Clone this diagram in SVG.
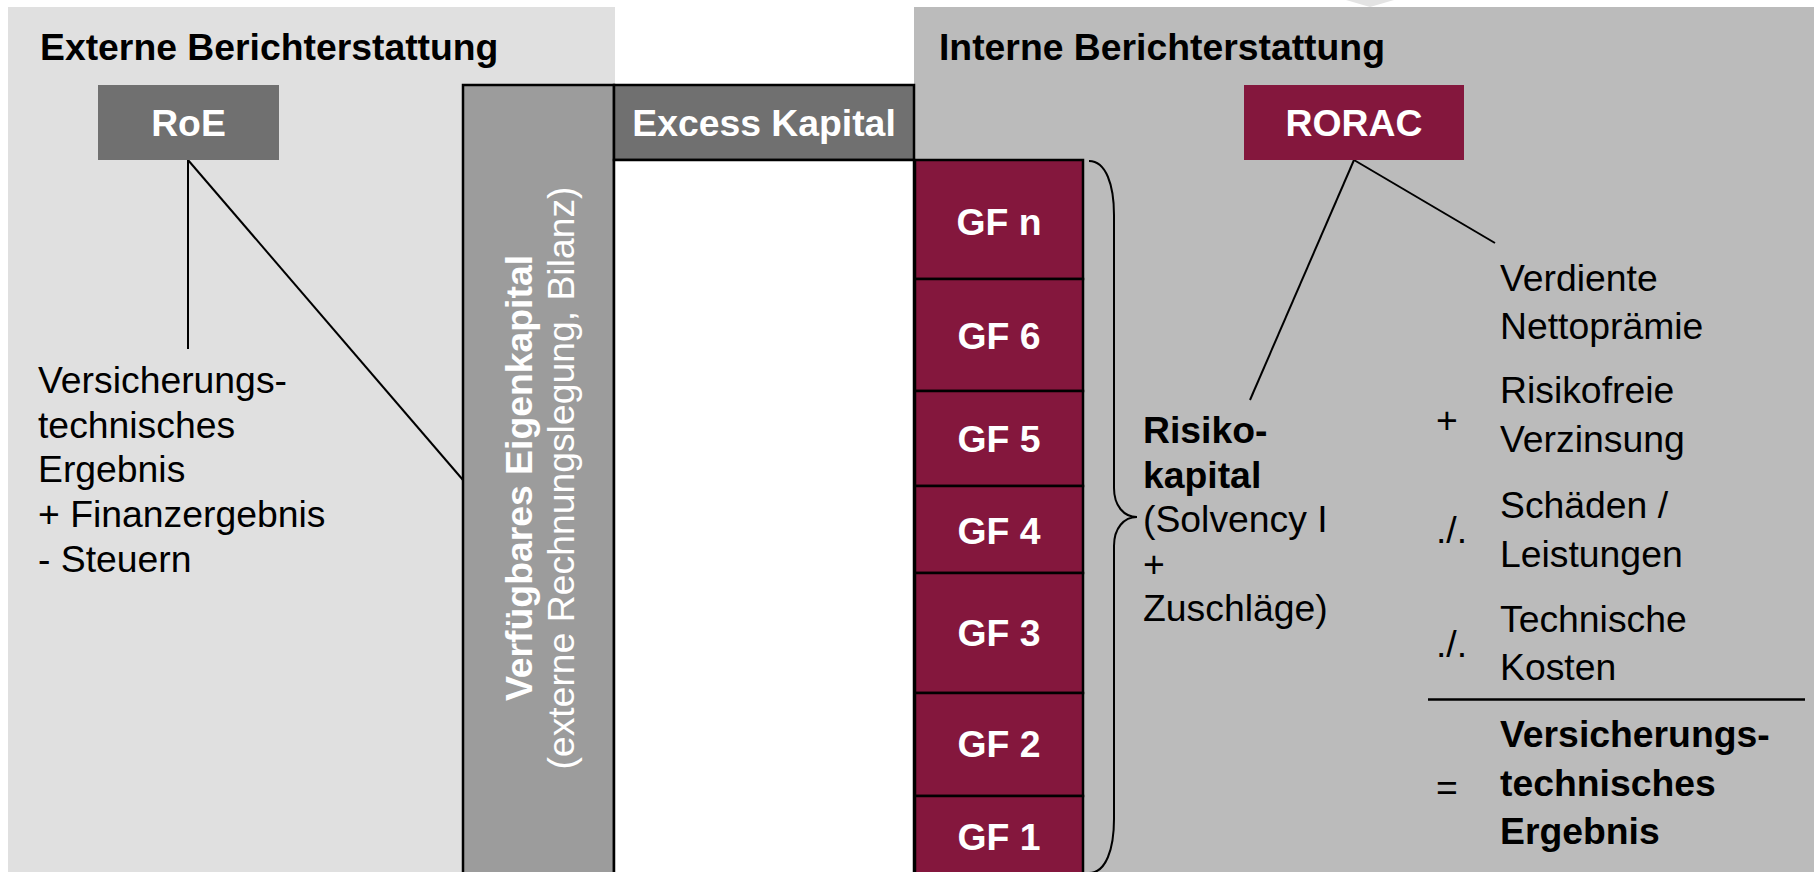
<svg xmlns="http://www.w3.org/2000/svg" width="1814" height="872" viewBox="0 0 1814 872">
<style>
text{font-family:"Liberation Sans",Arial,sans-serif;font-size:37.33px;fill:#000}
.b{font-weight:bold}
.w{fill:#fff}
.c{text-anchor:middle}
.ln{stroke:#000;stroke-width:2;fill:none}
.box{stroke:#000;stroke-width:2.5}
.gf{fill:#84173d;stroke:#000;stroke-width:2.5}
</style>
<rect width="1814" height="872" fill="#fff"/>
<polygon points="1346,0 1394,0 1370,7" fill="#e3e3e3"/>
<g id="panel-extern">
<rect x="8" y="7" width="607" height="870" fill="#e0e0e0"/>
<text class="b" x="40" y="60">Externe Berichterstattung</text>
</g>
<g id="panel-intern">
<rect x="914" y="7" width="900" height="870" fill="#bbbbbb"/>
<text class="b" x="939" y="60">Interne Berichterstattung</text>
</g>
<g id="connectors">
<line class="ln" x1="188" y1="160" x2="188" y2="349"/>
<line class="ln" x1="188" y1="160" x2="463" y2="480"/>
<line class="ln" x1="1354" y1="160" x2="1250" y2="400"/>
<line class="ln" x1="1354" y1="160" x2="1495" y2="243"/>
<path class="ln" d="M1089,161 C1106,161 1114,185 1114,215 L1114,488 C1114,506 1124,517 1137,517 C1124,517 1114,528 1114,546 L1114,819 C1114,849 1106,873 1089,873"/>
<line x1="1428" y1="699.5" x2="1805" y2="699.5" stroke="#000" stroke-width="2.5"/>
</g>
<g id="roe">
<rect x="98" y="85" width="181" height="75" fill="#707070"/>
<text class="b w c" x="188.5" y="136">RoE</text>
</g>
<g id="eigenkapital">
<rect class="box" x="463" y="85" width="151" height="800" fill="#9c9c9c"/>
<text class="b w c" transform="translate(532,478) rotate(-90)">Verfügbares Eigenkapital</text>
<text class="w c" transform="translate(574,478) rotate(-90)">(externe Rechnungslegung, Bilanz)</text>
</g>
<g id="excess">
<rect class="box" x="614" y="85" width="300" height="75" fill="#707070"/>
<rect class="box" x="614" y="160" width="300" height="725" fill="#fff"/>
<text class="b w c" x="764" y="136">Excess Kapital</text>
</g>
<g id="gf-n"><rect class="gf" x="915" y="160" width="168" height="119"/><text class="b w c" x="999" y="235">GF n</text></g>
<g id="gf-6"><rect class="gf" x="915" y="279" width="168" height="112"/><text class="b w c" x="999" y="349">GF 6</text></g>
<g id="gf-5"><rect class="gf" x="915" y="391" width="168" height="95"/><text class="b w c" x="999" y="452">GF 5</text></g>
<g id="gf-4"><rect class="gf" x="915" y="486" width="168" height="87"/><text class="b w c" x="999" y="544">GF 4</text></g>
<g id="gf-3"><rect class="gf" x="915" y="573" width="168" height="120"/><text class="b w c" x="999" y="646">GF 3</text></g>
<g id="gf-2"><rect class="gf" x="915" y="693" width="168" height="103"/><text class="b w c" x="999" y="757">GF 2</text></g>
<g id="gf-1"><rect class="gf" x="915" y="796" width="168" height="90"/><text class="b w c" x="999" y="850">GF 1</text></g>
<g id="rorac">
<rect x="1244" y="85" width="220" height="75" fill="#84173d"/>
<text class="b w c" x="1354" y="136">RORAC</text>
</g>
<g id="roe-formel">
<text x="38" y="393">Versicherungs-</text>
<text x="38" y="437.5">technisches</text>
<text x="38" y="482">Ergebnis</text>
<text x="38" y="527">+ Finanzergebnis</text>
<text x="38" y="572">- Steuern</text>
</g>
<g id="risikokapital">
<text class="b" x="1143" y="443">Risiko-</text>
<text class="b" x="1143" y="487.5">kapital</text>
<text x="1143" y="532">(Solvency I</text>
<text x="1143" y="576.5">+</text>
<text x="1143" y="621">Zuschläge)</text>
</g>
<g id="rorac-formel">
<text x="1500" y="291">Verdiente</text>
<text x="1500" y="339">Nettoprämie</text>
<text x="1436" y="433">+</text>
<text x="1500" y="403">Risikofreie</text>
<text x="1500" y="452">Verzinsung</text>
<text x="1436" y="543">./.</text>
<text x="1500" y="518">Schäden /</text>
<text x="1500" y="567">Leistungen</text>
<text x="1436" y="657">./.</text>
<text x="1500" y="632">Technische</text>
<text x="1500" y="680">Kosten</text>
<text x="1436" y="800">=</text>
<text class="b" x="1500" y="747">Versicherungs-</text>
<text class="b" x="1500" y="796">technisches</text>
<text class="b" x="1500" y="844">Ergebnis</text>
</g>
</svg>
